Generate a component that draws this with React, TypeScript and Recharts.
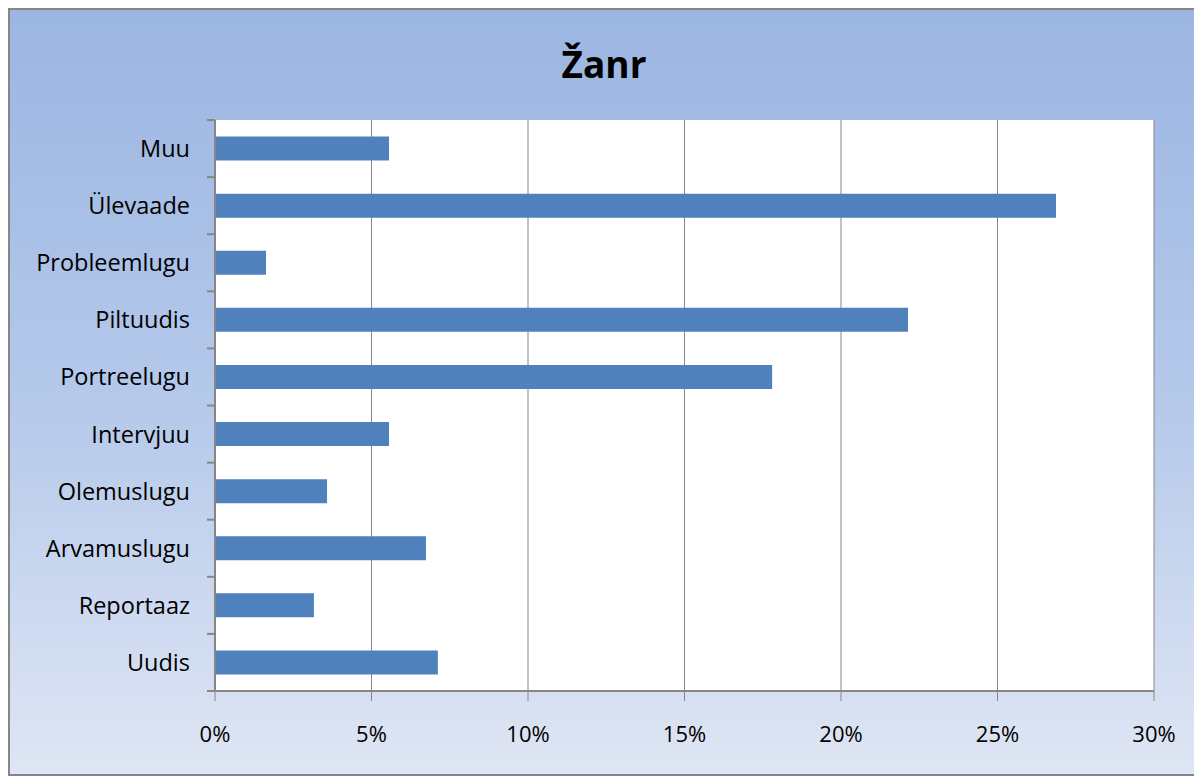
import { BarChart, Bar, XAxis, YAxis, CartesianGrid } from "recharts"

const categories = [
  "Muu",
  "Ülevaade",
  "Probleemlugu",
  "Piltuudis",
  "Portreelugu",
  "Intervjuu",
  "Olemuslugu",
  "Arvamuslugu",
  "Reportaaz",
  "Uudis",
]
const shares = [5.56, 26.87, 1.63, 22.14, 17.8, 5.56, 3.58, 6.74, 3.16, 7.12]
const xTicks = [0, 5, 10, 15, 20, 25, 30]

const data = categories.map((name, i) => ({ name, value: shares[i] }))

const FONT = "'Open Sans', sans-serif"
const GRAY = "#868686"

// Excel puts the category ticks on the band edges, not at the centre
function CategoryTick(props: any) {
  const { x, y, payload, index } = props
  const half = payload?.offset ?? 28.4
  return (
    <g>
      <text x={x} y={y} dy="0.36em" textAnchor="end" fill="#000" fontSize={23.5} fontFamily={FONT}>
        {payload.value}
      </text>
      <line x1={x + 17} x2={x + 25} y1={y - half} y2={y - half} stroke={GRAY} strokeWidth={2} />
      {index === categories.length - 1 && (
        <line x1={x + 17} x2={x + 25} y1={y + half} y2={y + half} stroke={GRAY} strokeWidth={2} />
      )}
    </g>
  )
}

export default function App() {
  return (
    <div
      style={{
        position: "relative",
        width: 1192,
        height: 768,
        boxSizing: "border-box",
        border: `2px solid ${GRAY}`,
        background: "linear-gradient(180deg, #9bb6e2 0%, #b4c8ea 50%, #dfe6f4 100%)",
      }}
    >
      <div
        style={{
          position: "absolute",
          left: 0,
          right: 0,
          top: 28,
          textAlign: "center",
          fontFamily: FONT,
          fontWeight: 700,
          fontSize: 37,
          color: "#000",
        }}
      >
        Žanr
      </div>
      <BarChart
        width={1188}
        height={764}
        data={data}
        layout="vertical"
        barCategoryGap="29%"
        margin={{ top: 110, right: 44, bottom: 38, left: 0 }}
      >
        <CartesianGrid horizontal={false} stroke={GRAY} fill="#fff" strokeOpacity={1} />
        <XAxis
          type="number"
          domain={[0, 30]}
          ticks={xTicks}
          tickFormatter={(v) => `${v}%`}
          axisLine={{ stroke: GRAY, strokeWidth: 2 }}
          tickLine={{ stroke: GRAY, strokeWidth: 1 }}
          tickSize={10}
          tickMargin={25}
          height={45}
          tick={{ fill: "#000", fontSize: 22, fontFamily: FONT }}
        />
        <YAxis
          type="category"
          dataKey="name"
          width={205}
          axisLine={{ stroke: GRAY, strokeWidth: 2 }}
          tickLine={false}
          tickSize={0}
          tickMargin={25}
          tick={<CategoryTick />}
          interval={0}
        />
        <Bar dataKey="value" fill="#4f81bd" isAnimationActive={false} />
      </BarChart>
    </div>
  )
}
